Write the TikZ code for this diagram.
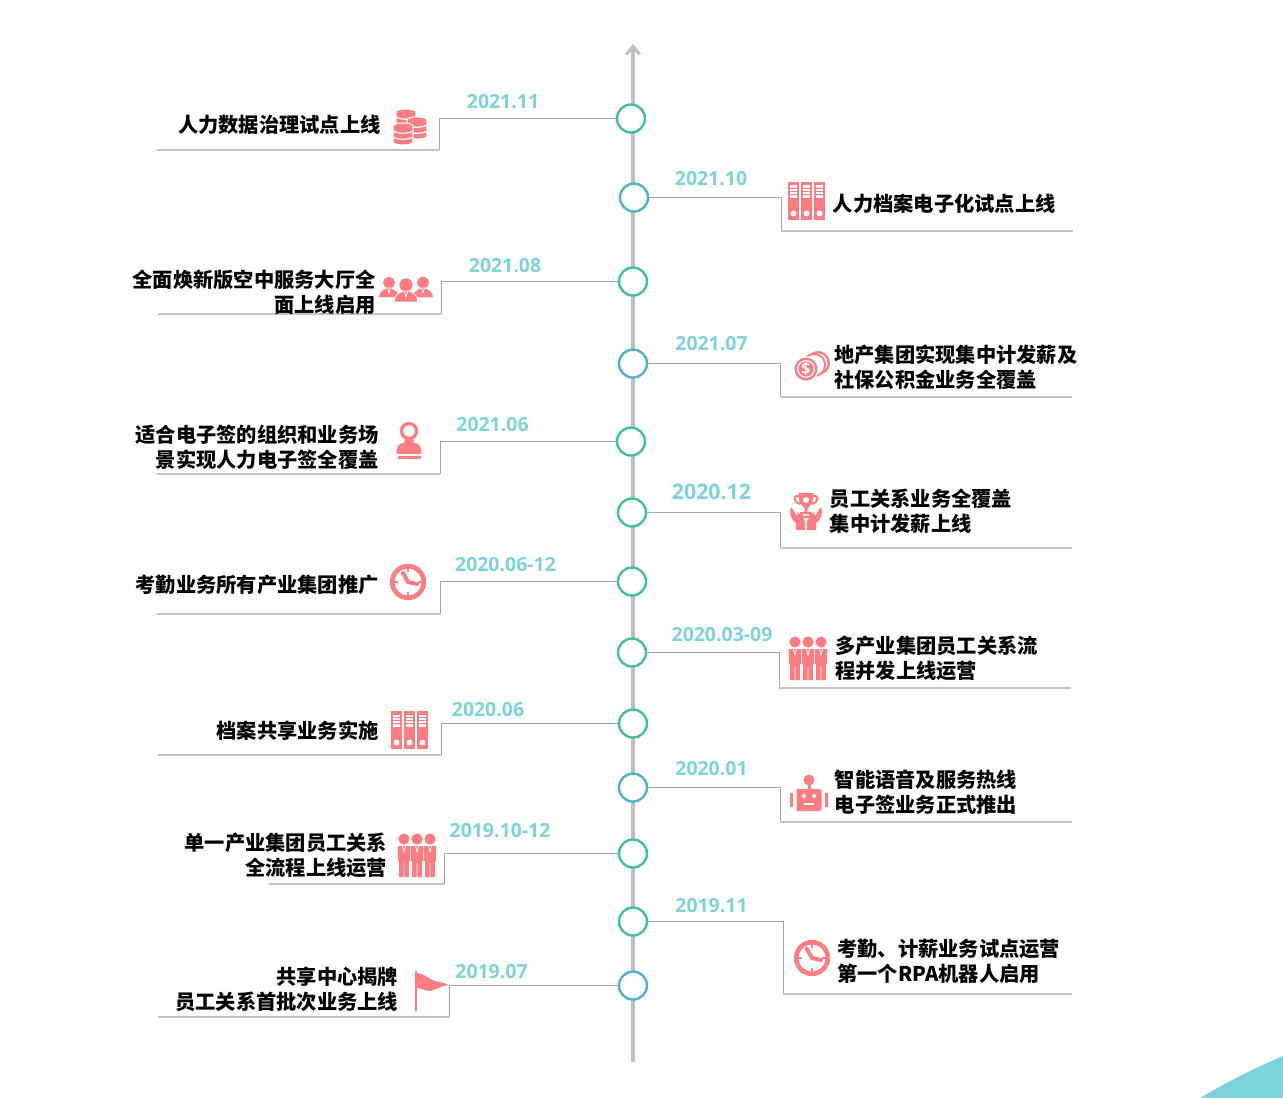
\documentclass[tikz,border=0pt]{standalone}
\usepackage{fontspec}
\usepackage{tikz}
\usetikzlibrary{arrows.meta}
\newfontfamily\cjk{Noto Sans CJK SC}
\newfontfamily\datefont{Open Sans}
\definecolor{axisgray}{HTML}{BFBFBF}
\definecolor{leadgray}{HTML}{A6A6A6}
\definecolor{undergray}{HTML}{C4C4C4}
\definecolor{dategreen}{HTML}{7DD3DC}
\definecolor{ringgreen}{HTML}{42BFA0}
\definecolor{ringblue}{HTML}{4CB3CF}
\definecolor{iconred}{HTML}{FF7C80}
\tikzset{
  ring/.style={circle,draw,fill=white,line width=1.8pt,minimum size=21pt,inner sep=0pt,yshift=-.4pt},
  gring/.style={ring,draw=ringgreen},
  bring/.style={ring,draw=ringblue},
  lead/.style={draw=leadgray,line width=.75pt},
  under/.style={draw=undergray,line width=.9pt},
  stamptext/.style={font=\cjk\bfseries\fontsize{15.2}{18.75}\selectfont,inner sep=0pt,text=black},
  ltext/.style={stamptext,anchor=east,align=right},
  rtext/.style={stamptext,anchor=west,align=left},
  datelab/.style={font=\datefont\bfseries\fontsize{14.6}{16}\selectfont,text=dategreen,inner sep=0pt},
  % icons, drawn round their centre
  cylinder icon/.pic={
    \path[fill=iconred,draw=white,line width=.8pt] (-10,-8) .. controls (-10,-12) and (10,-12) .. (10,-8) -- (10,8) .. controls (10,12) and (-10,12) .. (-10,8) -- cycle;
    \draw[white,line width=.9pt] (-10,-3) .. controls (-5,0) and (5,0) .. (10,-3);
    \draw[white,line width=.9pt] (-10,3) .. controls (-5,6) and (5,6) .. (10,3);
  },
  database icon/.pic={
    \path (-4,-7) pic {cylinder icon};
    \path (7,1) pic {cylinder icon};
    \path (-7,7) pic {cylinder icon};
  },
  spine icon/.pic={
    \fill[iconred] (-5.9,-19) rectangle (5.9,19);
    \fill[white] (-3.5,-15.5) rectangle (3.5,-3);
    \draw[iconred,line width=.6pt] (-3.5,-12.5) -- (3.5,-12.5);
    \draw[iconred,line width=.6pt] (-3.5,-9.5) -- (3.5,-9.5);
    \draw[iconred,line width=.6pt] (-3.5,-6.5) -- (3.5,-6.5);
    \fill[white] (0,12.5) circle (3);
  },
  binder icon/.pic={
    \path (-13,0) pic {spine icon};
    \path (0,0) pic {spine icon};
    \path (13,0) pic {spine icon};
  },
  bust icon/.pic={
    \fill[iconred] (0,-6) circle (6.6);
    \path[fill=iconred,draw=white,line width=.6pt] (-12,11) .. controls (-12,4) and (-7,2) .. (-3,0) -- (3,0) .. controls (7,2) and (12,4) .. (12,11) -- cycle;
    \draw[white,line width=.6pt] (-1.5,.5) -- (0,6) -- (1.5,.5);
  },
  team icon/.pic={
    \path (-17,-2) pic[scale=.88] {bust icon};
    \path (17,-2) pic[scale=.88] {bust icon};
    \path (0,1) pic {bust icon};
  },
  coin icon/.pic={
    \fill[iconred] (7,-4) circle (12);
    \fill[white] (7,-4) circle (9.5);
    \fill[iconred] (3,-2) circle (12);
    \fill[white] (3,-2) circle (10);
    \fill[white] (-5,2) circle (12.8);
    \fill[iconred] (-5,2) circle (11.5);
    \draw[white,line width=.9pt] (-5,2) circle (8.3);
    \path node[text=white,inner sep=0pt,font=\datefont\bfseries\fontsize{12}{12}\selectfont] (coinsign) at (-5,2) {\$};
  },
  stamp icon/.pic={
    \draw[iconred,line width=2.5pt] (0,-9) circle (7.5);
    \fill[iconred] (-4,-2) -- (4,-2) -- (5,3) .. controls (10,3) and (12.5,6) .. (12.5,14) -- (-12.5,14) .. controls (-12.5,6) and (-10,3) .. (-5,3) -- cycle;
    \fill[iconred] (-11.5,16) rectangle (11.5,19);
  },
  hand icon/.pic={
    \fill[iconred] (-15,-4) .. controls (-17,2) and (-16,7) .. (-10,12) -- (-10,19) -- (-1,19) -- (-1,12) .. controls (-1,8) and (-4,6) .. (-8,1) -- (-9,5) .. controls (-12,2) and (-12,-1) .. (-15,-4) -- cycle;
  },
  trophy icon/.pic={
    \draw[iconred,line width=1.6pt] (-7,-15) .. controls (-14,-16) and (-12,-8) .. (-6,-7);
    \draw[iconred,line width=1.6pt] (7,-15) .. controls (14,-16) and (12,-8) .. (6,-7);
    \fill[iconred] (-7.5,-18) -- (7.5,-18) -- (6.5,-9) .. controls (5,-5) and (2,-4) .. (1.5,-3) -- (1.5,1) -- (6,1) -- (6,7) -- (-6,7) -- (-6,1) -- (-1.5,1) -- (-1.5,-3) .. controls (-2,-4) and (-5,-5) .. (-6.5,-9) -- cycle;
    \fill[white] (0,-11) circle (3);
    \fill[white] (-3,3) rectangle (3,5);
    \path pic {hand icon};
    \path pic[xscale=-1] {hand icon};
  },
  clock icon/.pic={
    \draw[iconred,line width=3.5pt] (0,0) circle (15.8);
    \draw[iconred,line width=1.6pt] (0,-14) -- (0,-10);
    \draw[iconred,line width=1.6pt] (0,14) -- (0,10);
    \draw[iconred,line width=1.6pt] (-14,0) -- (-10,0);
    \draw[iconred,line width=1.6pt] (14,0) -- (10,0);
    \draw[iconred,line width=3pt,line cap=round] (-5,-9) -- (0,0) -- (9,2);
  },
  worker icon/.pic={
    \fill[iconred] (0,-16) circle (5.6);
    \fill[iconred] (-6.2,-9) -- (6.2,-9) -- (6.2,6) -- (4.8,6) -- (4.8,22) -- (.4,22) -- (.4,8) -- (-.4,8) -- (-.4,22) -- (-4.8,22) -- (-4.8,6) -- (-6.2,6) -- cycle;
    \draw[white,line width=.6pt] (-1.5,-9) -- (0,-3) -- (1.5,-9);
  },
  crew icon/.pic={
    \path (-13,0) pic {worker icon};
    \path (13,0) pic {worker icon};
    \path (0,0) pic {worker icon};
  },
  robot icon/.pic={
    \fill[iconred] (0,-15) circle (5.5);
    \fill[iconred] (-1.5,-12) rectangle (1.5,-6);
    \fill[iconred,rounded corners=1pt] (-12.5,-6) rectangle (12.5,16);
    \fill[white] (-5,1) circle (2);
    \fill[white] (5,1) circle (2);
    \fill[white] (-5,7.5) rectangle (5,10);
    \fill[iconred] (-19,-2) rectangle (-16,12);
    \fill[iconred] (16,-2) rectangle (19,12);
  },
  flag icon/.pic={
    \fill[iconred] (-15.5,-23) rectangle (-13.5,17);
    \fill[iconred] (-13.5,-21) .. controls (-6,-21) and (0,-14) .. (5,-13) .. controls (10,-12) and (14,-11) .. (19,-9) .. controls (10,-8) and (6,-4) .. (0,-3) .. controls (-5,-3) and (-9,-6) .. (-13.5,-6) -- cycle;
  },
}
\begin{document}
\begin{tikzpicture}[x=.75pt,y=-.75pt,>={Straight Barb[length=6pt,width=10pt,line width=2.4pt]}]
\useasboundingbox (0,0) rectangle (1283,1098);
% corner
\fill[dategreen] (1200,1098) .. controls (1225,1083) and (1255,1068) .. (1283,1056) -- (1283,1098) -- cycle;
% axis
\coordinate (axisbot) at (633,1062);
\coordinate (axistop) at (633,44);
\draw[->,axisgray,line width=2.6pt] (axisbot) -- (axistop);

\path node[gring] (c1) at (631,118) {};
\path node[bring] (c2) at (634,197) {};
\path node[gring] (c3) at (633,281) {};
\path node[bring] (c4) at (633,363) {};
\path node[gring] (c5) at (631,441) {};
\path node[gring] (c6) at (632,512) {};
\path node[gring] (c7) at (632,581) {};
\path node[gring] (c8) at (632,652) {};
\path node[gring] (c9) at (633,723) {};
\path node[bring] (c10) at (633,787) {};
\path node[gring] (c11) at (633,853) {};
\path node[gring] (c12) at (633,921) {};
\path node[bring] (c13) at (633,985) {};

\coordinate (k1) at (439,150);    \coordinate (e1) at (157,150);
\coordinate (k2) at (781,231);    \coordinate (e2) at (1073,231);
\coordinate (k3) at (441,314);    \coordinate (e3) at (158,314);
\coordinate (k4) at (780,397);    \coordinate (e4) at (1072,397);
\coordinate (k5) at (440,474);    \coordinate (e5) at (157,474);
\coordinate (k6) at (780,548);    \coordinate (e6) at (1072,548);
\coordinate (k7) at (440,614);    \coordinate (e7) at (157,614);
\coordinate (k8) at (779,688);    \coordinate (e8) at (1071,688);
\coordinate (k9) at (441,755);    \coordinate (e9) at (158,755);
\coordinate (k10) at (780,822);   \coordinate (e10) at (1072,822);
\coordinate (k11) at (444,884);   \coordinate (e11) at (269,884);
\coordinate (k12) at (783,994);   \coordinate (e12) at (1072,994);
\coordinate (k13) at (449,1017);  \coordinate (e13) at (158,1017);

\path[lead] (c1.west) -| (k1); \path[under] (k1) -- (e1);
\path[lead] (c2.east) -| (k2); \path[under] (k2) -- (e2);
\path[lead] (c3.west) -| (k3); \path[under] (k3) -- (e3);
\path[lead] (c4.east) -| (k4); \path[under] (k4) -- (e4);
\path[lead] (c5.west) -| (k5); \path[under] (k5) -- (e5);
\path[lead] (c6.east) -| (k6); \path[under] (k6) -- (e6);
\path[lead] (c7.west) -| (k7); \path[under] (k7) -- (e7);
\path[lead] (c8.east) -| (k8); \path[under] (k8) -- (e8);
\path[lead] (c9.west) -| (k9); \path[under] (k9) -- (e9);
\path[lead] (c10.east) -| (k10); \path[under] (k10) -- (e10);
\path[lead] (c11.west) -| (k11); \path[under] (k11) -- (e11);
\path[lead] (c12.east) -| (k12); \path[under] (k12) -- (e12);
\path[lead] (c13.west) -| (k13); \path[under] (k13) -- (e13);

\path node[datelab] (d1) at (503,102) {2021.11};
\path node[datelab] (d2) at (711,179) {2021.10};
\path node[datelab] (d3) at (505,266) {2021.08};
\path node[datelab] (d4) at (711.5,344) {2021.07};
\path node[datelab] (d5) at (492.5,425) {2021.06};
\path node[datelab,font=\datefont\bfseries\fontsize{16}{18}\selectfont] (d6) at (711.5,491.5) {2020.12};
\path node[datelab] (d7) at (505.5,565) {2020.06-12};
\path node[datelab] (d8) at (722,635) {2020.03-09};
\path node[datelab] (d9) at (488,710) {2020.06};
\path node[datelab] (d10) at (711.5,769) {2020.01};
\path node[datelab] (d11) at (500,831) {2019.10-12};
\path node[datelab] (d12) at (711.5,906) {2019.11};
\path node[datelab] (d13) at (491.5,972) {2019.07};

\path node[ltext] (t1) at (381,125) {人力数据治理试点上线};
\path node[rtext] (t2) at (832.5,204) {人力档案电子化试点上线};
\path node[ltext] (t3) at (376,292) {全面焕新版空中服务大厅全\\面上线启用};
\path node[rtext] (t4) at (834,367) {地产集团实现集中计发薪及\\社保公积金业务全覆盖};
\path node[ltext] (t5) at (379,447) {适合电子签的组织和业务场\\景实现人力电子签全覆盖};
\path node[rtext] (t6) at (829.5,511) {员工关系业务全覆盖\\集中计发薪上线};
\path node[ltext] (t7) at (379,585) {考勤业务所有产业集团推广};
\path node[rtext] (t8) at (835,658) {多产业集团员工关系流\\程并发上线运营};
\path node[ltext] (t9) at (379,731) {档案共享业务实施};
\path node[rtext] (t10) at (834.5,792) {智能语音及服务热线\\电子签业务正式推出};
\path node[ltext] (t11) at (387.5,855) {单一产业集团员工关系\\全流程上线运营};
\path node[rtext] (t12) at (837,961) {考勤、计薪业务试点运营\\第一个RPA机器人启用};
\path node[ltext] (t13) at (398.5,989) {共享中心揭牌\\员工关系首批次业务上线};

\path (410,127) pic {database icon};
\path (806.5,201) pic {binder icon};
\path (406,290) pic {team icon};
\path (811,367) pic {coin icon};
\path (409,440) pic {stamp icon};
\path (806,511) pic {trophy icon};
\path (408,582) pic {clock icon};
\path (808,658) pic {crew icon};
\path (409.5,730) pic {binder icon};
\path (809,795) pic {robot icon};
\path (417,855) pic {crew icon};
\path (812,958) pic {clock icon};
\path (430,994) pic {flag icon};
\end{tikzpicture}
\end{document}
